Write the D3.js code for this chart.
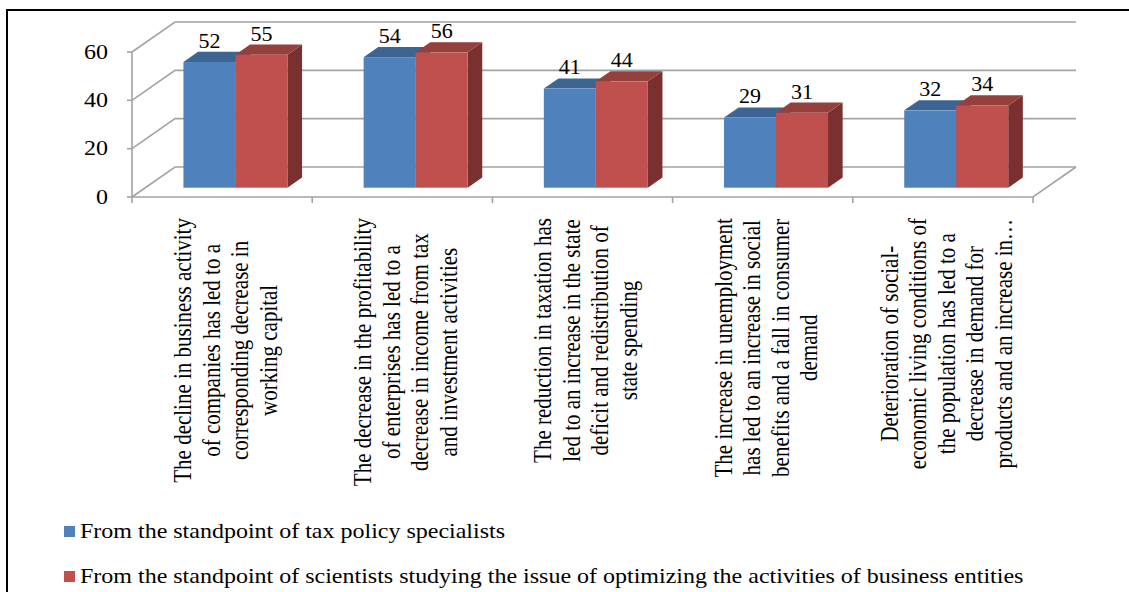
<!DOCTYPE html>
<html>
<head>
<meta charset="utf-8">
<script src="https://cdn.jsdelivr.net/npm/d3@7"></script>
<style>
  html, body { margin: 0; padding: 0; background: #fff; }
</style>
</head>
<body>
<div id="chart"></div>
<script>
const categories = [
  ['The decline in business activity', 'of companies has led to a', 'corresponding decrease in', 'working capital'],
  ['The decrease in the profitability', 'of enterprises has led to a', 'decrease in income from tax', 'and investment activities'],
  ['The reduction in taxation has', 'led to an increase in the state', 'deficit and redistribution of', 'state spending'],
  ['The increase in unemployment', 'has led to an increase in social', 'benefits and a fall in consumer', 'demand'],
  ['Deterioration of social-', 'economic living conditions of', 'the population has led to a', 'decrease in demand for', 'products and an increase in…']
];
const seriesNames = [
  'From the standpoint of tax policy specialists',
  'From the standpoint of scientists studying the issue of optimizing the activities of business entities'
];
const specialists = [52, 54, 41, 29, 32];
const scientists = [55, 56, 44, 31, 34];
const yTicks = [0, 20, 40, 60];

const width = 1129;
const height = 592;
const colors = [
  { front: '#4f81bd', top: '#3d6594', side: '#385d8a' },
  { front: '#c0504d', top: '#94403d', side: '#7a302e' }
];
const gridColor = '#a3a3a3';
// the source picture is a bit wider than tall, so glyphs get stretched sideways
const stretch = 1.2;

// front plane of the 3-D box and the depth offset to the back wall
const depth = { dx: 43, dy: -30 };
const barZ = [0.31, 0.65];

const keys = categories.map((d, i) => i);
const x = d3.scaleBand().domain(keys).range([132, 1033]);
const xs = d3.scaleBand().domain([0, 1]).range([0, x.bandwidth()]).paddingOuter(0.733);
const y = d3.scaleLinear().domain([0, 60]).range([197, 52]);

const svg = d3.select('#chart')
  .append('svg')
  .attr('width', width)
  .attr('height', height)
  .attr('font-family', "'Liberation Serif', 'Tinos', 'DejaVu Serif', serif")
  .style('display', 'block');

// outer frame
svg.append('path')
  .attr('d', `M7,${height + 5}V10H${width + 5}`)
  .attr('fill', 'none')
  .attr('stroke', '#000')
  .attr('stroke-width', 2);

const grid = svg.append('g')
  .attr('fill', 'none')
  .attr('stroke', gridColor)
  .attr('stroke-width', 1.6);

// back wall gridlines with the side diagonals
grid.selectAll('path.grid')
  .data(yTicks)
  .join('path')
  .attr('class', 'grid')
  .attr('d', (d) => `M${x.range()[0]},${y(d)}l${depth.dx},${depth.dy}H${x.range()[1] + depth.dx}`);

// floor front edge and right diagonal
grid.append('path')
  .attr('d', `M${x.range()[0]},${y(0)}H${x.range()[1]}l${depth.dx},${depth.dy}`);

// front value axis
grid.append('path')
  .attr('d', `M${x.range()[0]},${y(60)}V${y(0)}`);
grid.selectAll('line.ytick')
  .data(yTicks)
  .join('line')
  .attr('class', 'ytick')
  .attr('x1', x.range()[0] - 5)
  .attr('x2', x.range()[0])
  .attr('y1', (d) => y(d))
  .attr('y2', (d) => y(d));

// category ticks
const xTickPos = keys.map((k) => x(k)).concat([x.range()[1]]);
grid.selectAll('line.xtick')
  .data(xTickPos)
  .join('line')
  .attr('class', 'xtick')
  .attr('x1', (d) => d)
  .attr('x2', (d) => d)
  .attr('y1', y(0))
  .attr('y2', y(0) + 6);

svg.append('g')
  .attr('font-size', 20)
  .attr('text-anchor', 'end')
  .selectAll('text')
  .data(yTicks)
  .join('text')
  .attr('transform', (d) => `translate(108,${y(d)}) scale(${stretch},1)`)
  .attr('dy', '0.33em')
  .text((d) => d);

// bars
const fdx = depth.dx * barZ[0];
const fdy = depth.dy * barZ[0];
const bdx = depth.dx * (barZ[1] - barZ[0]);
const bdy = depth.dy * (barZ[1] - barZ[0]);

const bars = [];
keys.forEach((k) => {
  [specialists[k], scientists[k]].forEach((v, s) => {
    const x0 = x(k) + xs(s) + fdx;
    const x1 = x0 + xs.bandwidth();
    bars.push({ k, s, v, x0, x1, yt: y(v) + fdy, yb: y(0) + fdy });
  });
});

const bar = svg.append('g')
  .selectAll('g')
  .data(bars)
  .join('g');

bar.append('path')
  .attr('fill', (d) => colors[d.s].side)
  .attr('d', (d) => `M${d.x1},${d.yt}l${bdx},${bdy}V${d.yb + bdy}L${d.x1},${d.yb}Z`);
bar.append('path')
  .attr('fill', (d) => colors[d.s].top)
  .attr('d', (d) => `M${d.x0},${d.yt}l${bdx},${bdy}H${d.x1 + bdx}L${d.x1},${d.yt}Z`);
bar.append('rect')
  .attr('fill', (d) => colors[d.s].front)
  .attr('x', (d) => d.x0)
  .attr('y', (d) => d.yt)
  .attr('width', (d) => d.x1 - d.x0)
  .attr('height', (d) => d.yb - d.yt);

svg.append('g')
  .attr('font-size', 20)
  .attr('text-anchor', 'middle')
  .selectAll('text')
  .data(bars)
  .join('text')
  .attr('transform', (d) => `translate(${(d.x0 + d.x1) / 2},${d.yt + bdy - 4}) scale(1.1,1)`)
  .text((d) => d.v);

// rotated category labels, lines centred, block starting just under the axis
const lineH = 28.5;
const labelTop = 218;
const catG = svg.append('g')
  .attr('font-size', 21)
  .selectAll('g')
  .data(categories)
  .join('g');

catG.each(function (lines, i) {
  const g = d3.select(this);
  const cx = x(i) + x.bandwidth() / 2 + 3;
  const t = g.selectAll('text')
    .data(lines)
    .join('text')
    .attr('text-anchor', 'middle')
    .attr('dominant-baseline', 'central')
    .text((d) => d);
  let maxLen = 0;
  t.each(function () { maxLen = Math.max(maxLen, this.getComputedTextLength()); });
  t.attr('transform', (d, j) => {
    const lx = cx + (j - (lines.length - 1) / 2) * lineH;
    return `translate(${lx},${labelTop + maxLen / 2}) scale(${stretch},1) rotate(-90)`;
  });
});

// legend
const legend = svg.append('g')
  .selectAll('g')
  .data(seriesNames)
  .join('g')
  .attr('transform', (d, i) => `translate(64,${526 + i * 45})`);
legend.append('rect')
  .attr('width', 11)
  .attr('height', 11)
  .attr('fill', (d, i) => colors[i].front);
legend.append('text')
  .attr('transform', `translate(16,12) scale(${stretch},1)`)
  .attr('font-size', 20)
  .text((d) => d);
</script>
</body>
</html>
